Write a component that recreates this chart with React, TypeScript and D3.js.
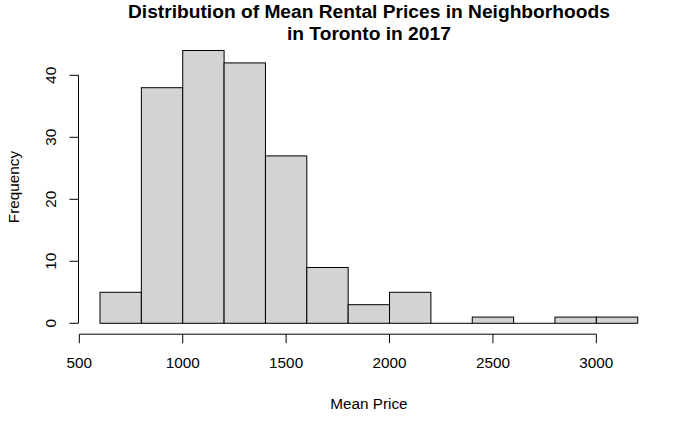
import React from "react";
import * as d3 from "d3";

const breaks = [600, 800, 1000, 1200, 1400, 1600, 1800, 2000, 2200, 2400, 2600, 2800, 3000, 3200];
const counts = [5, 38, 44, 42, 27, 9, 3, 5, 0, 1, 0, 1, 1];
const xTicks = [500, 1000, 1500, 2000, 2500, 3000];
const yTicks = [0, 10, 20, 30, 40];
const titleLines = ["Distribution of Mean Rental Prices in Neighborhoods", "in Toronto in 2017"];
const xLabel = "Mean Price";
const yLabel = "Frequency";

const W = 700;
const H = 432;

export default function App() {
  const x = d3.scaleLinear().domain([496, 3304]).range([78.5, 659.2]);
  const y = d3.scaleLinear().domain([-1.76, 45.76]).range([334.2, 39.6]);
  const font = "'Liberation Sans', Arial, sans-serif";
  const axisY = 334.2;
  const axisX = 78.5;
  const bins = counts.map((c, i) => ({ x0: breaks[i], x1: breaks[i + 1], c }));
  return (
    <div style={{ position: "fixed", left: 0, top: 0 }}>
      <svg width={W} height={H} style={{ display: "block", background: "#fff" }} fontFamily={font}>
        <rect x={0} y={0} width={W} height={H} fill="#fff" />
        {bins.map((b, i) =>
          b.c > 0 ? (
            <rect
              key={i}
              x={x(b.x0)}
              y={y(b.c)}
              width={x(b.x1) - x(b.x0)}
              height={y(0) - y(b.c)}
              fill="#D3D3D3"
              stroke="#000"
              strokeWidth={1}
            />
          ) : (
            <line key={i} x1={x(b.x0)} x2={x(b.x1)} y1={y(0)} y2={y(0)} stroke="#000" strokeWidth={1} />
          )
        )}
        {/* x axis */}
        <line x1={x(xTicks[0])} x2={x(xTicks[xTicks.length - 1])} y1={axisY} y2={axisY} stroke="#000" />
        {xTicks.map((t) => (
          <g key={t}>
            <line x1={x(t)} x2={x(t)} y1={axisY} y2={axisY + 9} stroke="#000" />
            <text x={x(t)} y={axisY + 34} textAnchor="middle" fontSize={15.3} fill="#000">
              {t}
            </text>
          </g>
        ))}
        {/* y axis */}
        <line x1={axisX} x2={axisX} y1={y(yTicks[0])} y2={y(yTicks[yTicks.length - 1])} stroke="#000" />
        {yTicks.map((t) => (
          <g key={t}>
            <line x1={axisX} x2={axisX - 9} y1={y(t)} y2={y(t)} stroke="#000" />
            <text
              transform={`translate(${axisX - 23},${y(t)}) rotate(-90)`}
              textAnchor="middle"
              fontSize={15.3}
              fill="#000"
            >
              {t}
            </text>
          </g>
        ))}
        <text x={368.9} y={409} textAnchor="middle" fontSize={15.3} fill="#000">
          {xLabel}
        </text>
        <text transform={`translate(19,187) rotate(-90)`} textAnchor="middle" fontSize={15.3} fill="#000">
          {yLabel}
        </text>
        {titleLines.map((l, i) => (
          <text key={i} x={368.9} y={17.5 + i * 22} textAnchor="middle" fontSize={19.2} fontWeight="bold" fill="#000">
            {l}
          </text>
        ))}
      </svg>
    </div>
  );
}
